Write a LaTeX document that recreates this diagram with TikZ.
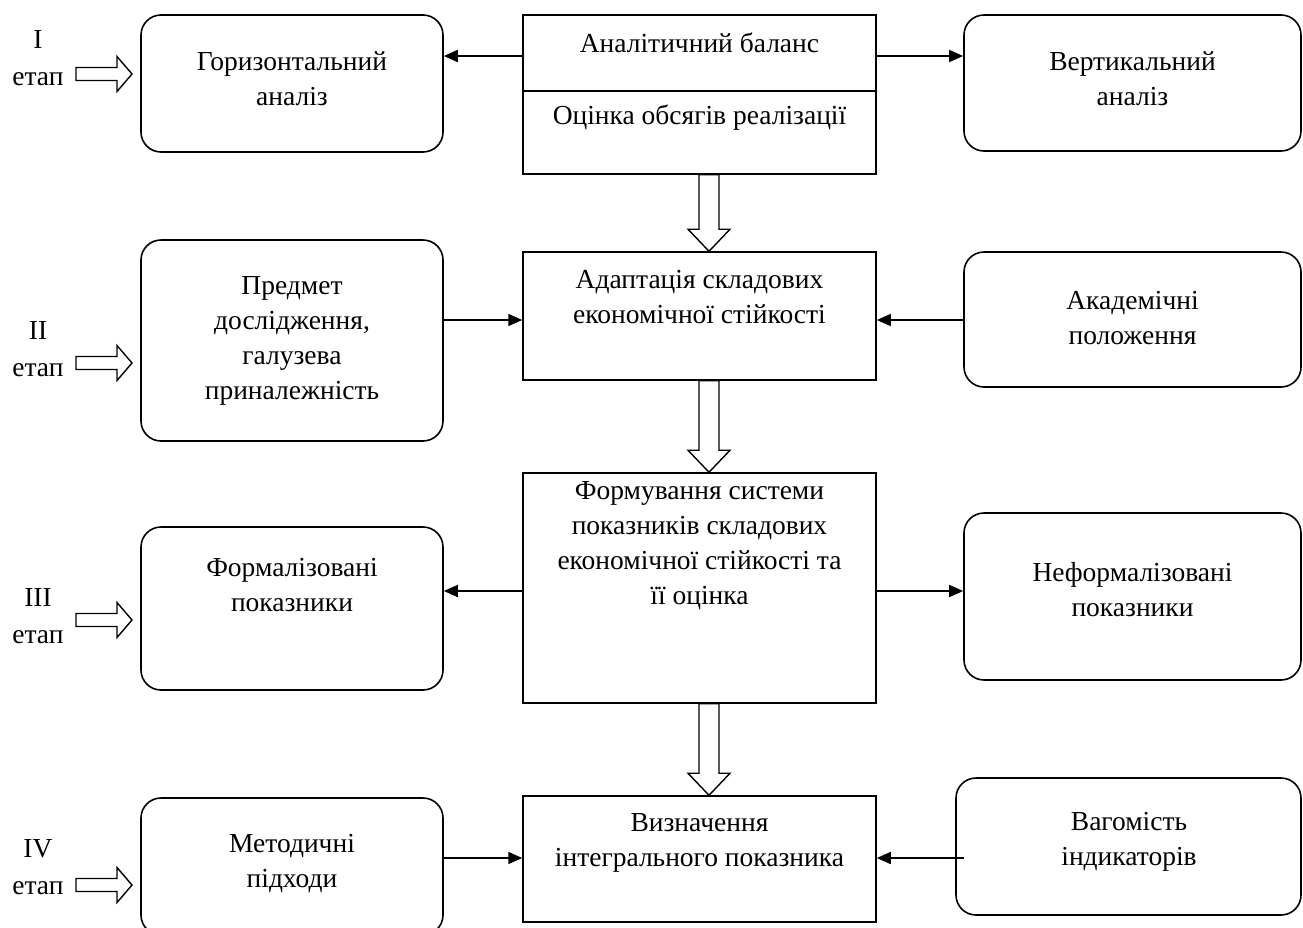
\documentclass[tikz,border=0pt]{standalone}
\usepackage{fontspec}
\setmainfont{Liberation Serif}
\usetikzlibrary{arrows.meta,calc}
\newcommand\DownArrow[2]{%
  \draw[barrow] let \p1=(#1.south), \p2=(#2.north) in
   (\x1-0.5pt,\y1) -- (\x1+19.5pt,\y1) -- (\x1+19.5pt,\y2+22pt) -- (\x1+30.5pt,\y2+22pt)
   -- (\x1+9.5pt,\y2) -- (\x1-11.5pt,\y2+22pt) -- (\x1-0.5pt,\y2+22pt) -- cycle;}
\newcommand\StageArrow[1]{%
  \draw[barrow] (76,{#1-6.5}) -- (117,{#1-6.5}) -- (117,{#1-17.5}) -- (132,#1)
   -- (117,{#1+17.5}) -- (117,{#1+6.5}) -- (76,{#1+6.5}) -- cycle;}
\begin{document}
\begin{tikzpicture}[x=1pt,y=-1pt,
  rbox/.style={draw, line width=1.6pt, rounded corners=20pt, inner sep=0pt},
  sbox/.style={draw, line width=1.5pt, inner sep=0pt},
  txt/.style={align=center, font=\fontsize{27.5}{35}\selectfont, inner sep=0pt},
  stg/.style={align=center, font=\fontsize{27.5}{37}\selectfont, inner sep=0pt},
  arr/.style={line width=1.6pt, -{Triangle[length=14pt,width=12pt]}},
  barrow/.style={draw, line width=1.4pt, fill=white, line join=miter}
]
\useasboundingbox (0,0) rectangle (1303,927);

% left boxes
\node[rbox, minimum width=302pt, minimum height=137pt] (lb1) at (292,83.5) {};
\node[rbox, minimum width=302pt, minimum height=201pt] (lb2) at (292,340.5) {};
\node[rbox, minimum width=302pt, minimum height=163pt] (lb3) at (292,608.5) {};
\node[rbox, minimum width=302pt, minimum height=137pt] (lb4) at (292,866.5) {};
% centre boxes
\node[sbox, minimum width=353pt, minimum height=159pt] (cb1) at (699.5,94.5) {};
\node[sbox, minimum width=353pt, minimum height=128pt] (cb2) at (699.5,316) {};
\node[sbox, minimum width=353pt, minimum height=230pt] (cb3) at (699.5,588) {};
\node[sbox, minimum width=353pt, minimum height=126pt] (cb4) at (699.5,859) {};
% right boxes
\node[rbox, minimum width=337pt, minimum height=136pt] (rb1) at (1132.5,83) {};
\node[rbox, minimum width=337pt, minimum height=135pt] (rb2) at (1132.5,319.5) {};
\node[rbox, minimum width=337pt, minimum height=167pt] (rb3) at (1132.5,596.5) {};
\node[rbox, minimum width=345pt, minimum height=137pt] (rb4) at (1128.5,846.5) {};

% divider in first centre box
\coordinate (dv) at (0,91);
\draw[line width=1.5pt] (cb1.west |- dv) -- (cb1.east |- dv);

% texts
\node[txt] (tl1) at (292,78.5) {Горизонтальний\\аналіз};
\node[txt] (tl2) at (292,341) {Предмет\\дослідження,\\галузева\\приналежність};
\node[txt] (tl3) at (292,585) {Формалізовані\\показники};
\node[txt] (tl4) at (292,864) {Методичні\\підходи};
\node[txt] (tc1a) at (699.5,43) {Аналітичний баланс};
\node[txt] (tc1b) at (699.5,118) {Оцінка обсягів реалізації};
\node[txt] (tc2) at (699.5,297) {Адаптація складових\\економічної стійкості};
\node[txt] (tc3) at (699.5,546) {Формування системи\\показників складових\\економічної стійкості та\\її оцінка};
\node[txt] (tc4) at (699.5,843) {Визначення\\інтегрального показника};
\node[txt] (tr1) at (1132.5,79) {Вертикальний\\аналіз};
\node[txt] (tr2) at (1132.5,318) {Академічні\\положення};
\node[txt] (tr3) at (1132.5,590) {Неформалізовані\\показники};
\node[txt] (tr4) at (1129,842) {Вагомість\\індикаторів};

% stage labels
\node[stg] (s1) at (38,58) {I\\етап};
\node[stg] (s2) at (38,349) {II\\етап};
\node[stg] (s3) at (38,616) {III\\етап};
\node[stg] (s4) at (38,867) {IV\\етап};
\StageArrow{74}
\StageArrow{363}
\StageArrow{620}
\StageArrow{885}

% connectors
\coordinate (y1) at (0,56);
\coordinate (y2) at (0,320);
\coordinate (y3) at (0,591);
\coordinate (y4) at (0,858);
\draw[arr] (cb1.west |- y1) -- (lb1.east |- y1);
\draw[arr] (cb1.east |- y1) -- (rb1.west |- y1);
\draw[arr] (lb2.east |- y2) -- (cb2.west |- y2);
\draw[arr] (rb2.west |- y2) -- (cb2.east |- y2);
\draw[arr] (cb3.west |- y3) -- (lb3.east |- y3);
\draw[arr] (cb3.east |- y3) -- (rb3.west |- y3);
\draw[arr] (lb4.east |- y4) -- (cb4.west |- y4);
\draw[arr] ([xshift=9pt]rb4.west |- y4) -- (cb4.east |- y4);

% block arrows between centre boxes
\DownArrow{cb1}{cb2}
\DownArrow{cb2}{cb3}
\DownArrow{cb3}{cb4}
\end{tikzpicture}
\end{document}
